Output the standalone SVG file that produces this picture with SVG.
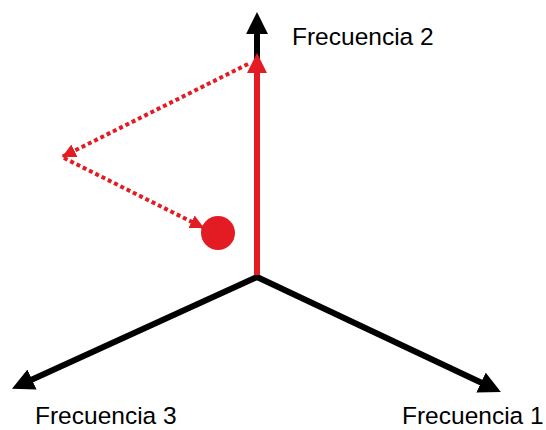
<svg xmlns="http://www.w3.org/2000/svg" width="546" height="430" viewBox="0 0 546 430">
<style>
.ax{stroke:#000;stroke-width:6;fill:none}
.red{stroke:#e31b23;stroke-width:6;fill:none}
.dot{stroke:#e31b23;stroke-width:4;fill:none;stroke-dasharray:4 3}
text{font-family:"Liberation Sans",Arial,sans-serif;font-size:24.5px;fill:#000}
</style>
<defs>
<marker id="ab" markerUnits="userSpaceOnUse" viewBox="0 0 20 20" refX="1" refY="10" markerWidth="22" markerHeight="22" orient="auto"><path d="M0,0 L20,10 L0,20 z" fill="#000"/></marker>
<marker id="ar" markerUnits="userSpaceOnUse" viewBox="0 0 20 20" refX="1" refY="10" markerWidth="20" markerHeight="20" orient="auto"><path d="M0,0 L20,10 L0,20 z" fill="#e31b23"/></marker>
<marker id="ad" markerUnits="userSpaceOnUse" viewBox="0 0 20 20" refX="20" refY="10" markerWidth="14" markerHeight="14" orient="auto"><path d="M0,0 L20,10 L0,20 z" fill="#e31b23"/></marker>
</defs>
<rect width="546" height="430" fill="#fff"/>
<g id="connectors">
<line class="ax" x1="257" y1="277" x2="257" y2="33" marker-end="url(#ab)"/>
<line class="ax" x1="257" y1="277" x2="31" y2="380" marker-end="url(#ab)"/>
<line class="ax" x1="257" y1="277" x2="482" y2="383" marker-end="url(#ab)"/>
<line class="red" x1="257" y1="275" x2="257" y2="72" marker-end="url(#ar)"/>
<line class="dot" x1="248" y1="64" x2="62" y2="157" marker-end="url(#ad)"/>
<line class="dot" x1="64" y1="158" x2="204" y2="228" marker-end="url(#ad)"/>
</g>
<g id="point"><circle cx="218" cy="233" r="17" fill="#e31b23"/></g>
<g id="label2"><text x="292" y="45">Frecuencia 2</text></g>
<g id="label3"><text x="35" y="424">Frecuencia 3</text></g>
<g id="label1"><text x="402" y="424">Frecuencia 1</text></g>
</svg>
